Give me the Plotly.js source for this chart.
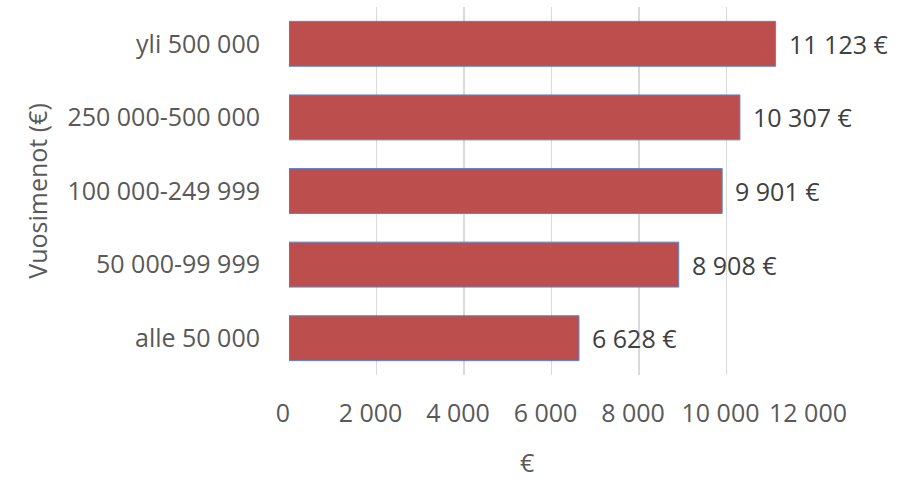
<!DOCTYPE html>
<html>
<head>
<meta charset="utf-8">
<script src="https://cdn.plot.ly/plotly-3.0.1.min.js"></script>
<style>html,body{margin:0;padding:0;background:#fff;}#chart{width:904px;height:482px;}</style>
</head>
<body>
<div id="chart"></div>
<script>
const categories = ["alle 50 000", "50 000-99 999", "100 000-249 999", "250 000-500 000", "yli 500 000"];
const values = [6628, 8908, 9901, 10307, 11123];
const valueLabels = ["6 628 €", "8 908 €", "9 901 €", "10 307 €", "11 123 €"];
const tickVals = [0, 2000, 4000, 6000, 8000, 10000, 12000];
const tickText = ["0", "2 000", "4 000", "6 000", "8 000", "10 000", "12 000"];
const xTitle = "€";
const yTitle = "Vuosimenot (€)";

const FONT = "'Open Sans', Lato, sans-serif";
const FS = 25;

const trace = {
  type: "bar",
  orientation: "h",
  x: values,
  y: categories,
  marker: { color: "#BC4F4D", line: { color: "#5B86C9", width: 1 } },
  hoverinfo: "none"
};

const annotations = values.map((v, i) => ({
  x: v, y: categories[i], xref: "x", yref: "y",
  text: valueLabels[i], showarrow: false,
  xanchor: "left", xshift: 11,
  font: { family: FONT, size: FS, color: "#404040" }
}));
annotations.push({
  x: 0.453, y: 0, xref: "paper", yref: "paper",
  yanchor: "bottom", xanchor: "center", yshift: -105,
  borderpad: 0,
  text: xTitle, showarrow: false,
  font: { family: FONT, size: FS, color: "#595959" }
});

const layout = {
  width: 904, height: 482,
  margin: { l: 289, r: 90, t: 7, b: 107 },
  paper_bgcolor: "#ffffff", plot_bgcolor: "#ffffff",
  showlegend: false,
  bargap: 0.39,
  font: { family: FONT, size: FS, color: "#595959" },
  xaxis: {
    range: [0, 12000],
    tickvals: tickVals, ticktext: tickText,
    ticklabelshift: -6,
    showgrid: true, gridcolor: "#D9D9D9", gridwidth: 1.5,
    zeroline: false, showline: false, ticks: "",
    ticklabelstandoff: 21,
    tickfont: { family: FONT, size: FS, color: "#595959" },
    fixedrange: true
  },
  yaxis: {
    type: "category",
    categoryorder: "array", categoryarray: categories,
    showgrid: false, zeroline: false, showline: false, ticks: "",
    ticklabelstandoff: 28,
    tickfont: { family: FONT, size: FS, color: "#595959" },
    title: { text: yTitle, font: { family: FONT, size: FS, color: "#595959" }, standoff: 12 },
    fixedrange: true
  },
  annotations: annotations
};

Plotly.newPlot("chart", [trace], layout, { displayModeBar: false, staticPlot: true });
</script>
</body>
</html>
